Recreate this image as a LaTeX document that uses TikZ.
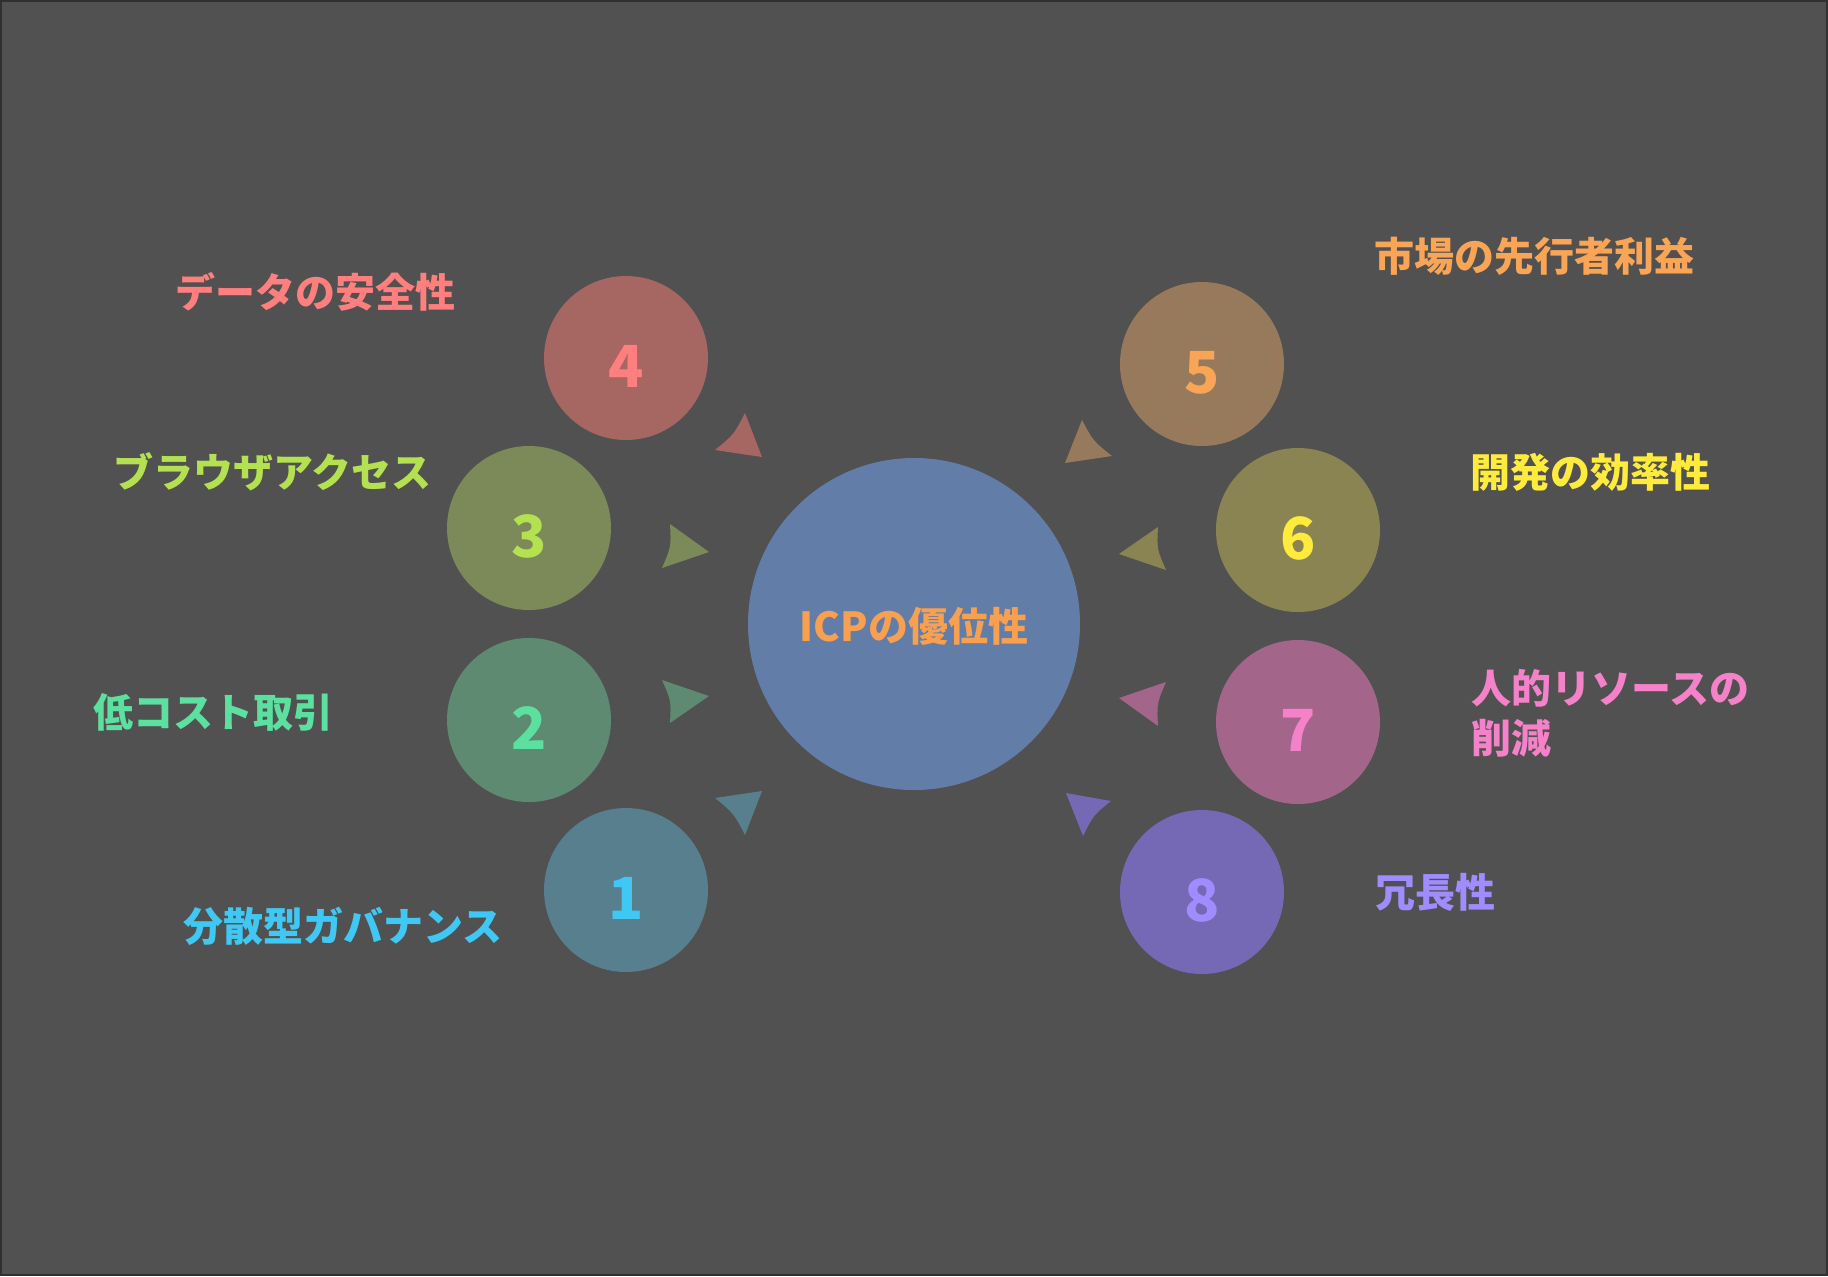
\documentclass[tikz,border=0pt]{standalone}
\usepackage{fontspec}
\setmainfont{Noto Sans CJK JP}
\usepackage{tikz}
\usetikzlibrary{positioning,calc}

\definecolor{bgcol}{HTML}{515151}
\definecolor{framecol}{HTML}{303030}
\definecolor{hubfill}{HTML}{627EA8}
\definecolor{hubtext}{HTML}{F9A050}
% circle fills
\definecolor{fill1}{HTML}{577F8D}
\definecolor{fill2}{HTML}{5F8A72}
\definecolor{fill3}{HTML}{7C8A5A}
\definecolor{fill4}{HTML}{A66662}
\definecolor{fill5}{HTML}{977A5C}
\definecolor{fill6}{HTML}{8A8453}
\definecolor{fill7}{HTML}{A3668A}
\definecolor{fill8}{HTML}{7568B5}
% text colours
\definecolor{text1}{HTML}{40C8F5}
\definecolor{text2}{HTML}{5CE0A0}
\definecolor{text3}{HTML}{B4E150}
\definecolor{text4}{HTML}{FF7F7F}
\definecolor{text5}{HTML}{F9A555}
\definecolor{text6}{HTML}{FFEB3B}
\definecolor{text7}{HTML}{F582C8}
\definecolor{text8}{HTML}{A08CFF}

% curved-back arrow tip: colour, tip, corner, corner
\newcommand{\tipmark}[4]{\fill[#1] (#2) -- (#3) .. controls ($(#3)!0.5!(#4)!0.12!(#2)$) .. (#4) -- cycle;}

\begin{document}
\begin{tikzpicture}[
    x=0.5pt, y=-0.5pt,
    hub/.style={circle, fill=hubfill, minimum size=166pt, inner sep=0pt, text=hubtext, text height=17pt, text depth=0pt, font=\bfseries\fontsize{20}{24}\selectfont},
    sat/.style={circle, fill=fill#1, minimum size=82pt, inner sep=0pt, text=text#1, text height=29pt, text depth=0pt, font=\bfseries\fontsize{29}{30}\selectfont},
    lbl/.style={anchor=west, inner sep=0pt, align=left, text=text#1, font=\bfseries\fontsize{20}{25}\selectfont}
]

% Canvas
\useasboundingbox (0,0) rectangle (1828,1276);
\fill[bgcol] (0,0) rectangle (1828,1276);
\draw[framecol, line width=1pt] (1,1) rectangle (1827,1275);

% Center node
\node[hub] (icp) at (914,624) {ICPの優位性};

% Left side
\node[sat=4] (s4) at (626,358) {4};
\node[sat=3] (s3) at (529,528) {3};
\node[sat=2] (s2) at (529,720) {2};
\node[sat=1] (s1) at (626,890) {1};

% Right side
\node[sat=5] (s5) at (1202,364) {5};
\node[sat=6] (s6) at (1298,530) {6};
\node[sat=7] (s7) at (1298,722) {7};
\node[sat=8] (s8) at (1202,892) {8};

% Labels
\node[lbl=4] (l4) at (175,292) {データの安全性};
\node[lbl=3] (l3) at (113,472) {ブラウザアクセス};
\node[lbl=2] (l2) at (93,712) {低コスト取引};
\node[lbl=1] (l1) at (183,926) {分散型ガバナンス};
\node[lbl=5] (l5) at (1374,256) {市場の先行者利益};
\node[lbl=6] (l6) at (1470,472) {開発の効率性};
\node[lbl=7] (l7) at (1471,713) {人的リソースの\\削減};
\node[lbl=8] (l8) at (1375,892) {冗長性};

% Arrow tips towards the center
\tipmark{fill4}{762,457}{745,413}{715,450}
\tipmark{fill3}{709,552}{670,524}{662,568}
\tipmark{fill2}{709,696}{662,680}{670,723}
\tipmark{fill1}{762,791}{745,835}{715,798}
\tipmark{fill5}{1065,463}{1082,420}{1112,456}
\tipmark{fill6}{1119,554}{1158,527}{1166,570}
\tipmark{fill7}{1119,698}{1166,682}{1158,726}
\tipmark{fill8}{1066,793}{1083,836}{1111,801}

\end{tikzpicture}
\end{document}
